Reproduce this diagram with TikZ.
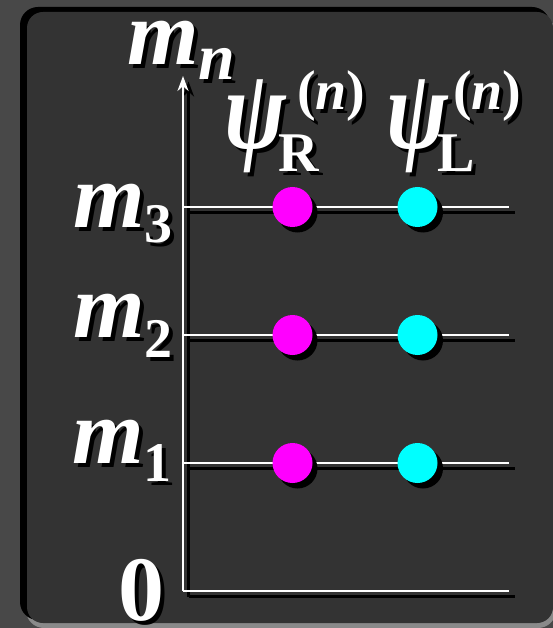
\documentclass[tikz,border=0pt]{standalone}
\usepackage{fontspec}
\setmainfont{Liberation Serif}
\usetikzlibrary{arrows.meta}
\definecolor{outerbg}{HTML}{484848}
\definecolor{panelbg}{HTML}{333333}
\definecolor{panellight}{HTML}{8A8A8A}
\definecolor{dotR}{HTML}{FF00FF}
\definecolor{dotL}{HTML}{00FFFF}
\newcommand\fs[1]{\fontsize{#1}{#1}\selectfont}
\newcommand\bigpsi{\scalebox{1.05}[1.3]{\fs{88}\bfseries\itshape ψ}}
\tikzset{
  txt/.style={inner sep=0pt, outer sep=0pt, anchor=base west},
  axisline/.style={white, line width=2.4pt},
  axisshadow/.style={black, line width=2.8pt},
  dot/.style={circle, fill=#1, minimum size=40pt, inner sep=0pt},
  dotshadow/.style={circle, fill=black, minimum size=40pt, inner sep=0pt},
}
\newcommand\shlabel[4]{%
  \node[txt, text=black] (#1s) at (#2+4,#3+4) {#4};
  \node[txt, text=white] (#1) at (#2,#3) {#4};}
\begin{document}
\begin{tikzpicture}[x=1pt, y=-1pt]
\useasboundingbox (0,0) rectangle (553,628);
\fill[outerbg] (0,0) rectangle (553,628);
% panel with bevel
\fill[panellight, rounded corners=18pt] (26,16) rectangle (556,628);
\fill[black, rounded corners=18pt] (20,7) rectangle (550,620);
\fill[panelbg, rounded corners=16pt] (27,12) rectangle (553,623);
% coordinates
\coordinate (o) at (183,591);
\coordinate (top) at (183,76);
\coordinate (os) at (188.5,596.5);
\coordinate (tops) at (188.5,81.5);
\foreach \n/\y in {0/591,1/463,2/335,3/207}{
  \coordinate (a\n) at (183,\y);
  \coordinate (e\n) at (509,\y);
  \coordinate (as\n) at (188.5,\y+5.5);
  \coordinate (es\n) at (514.5,\y+5.5);
}
% shadows of lines
\draw[axisshadow, -{Stealth[length=15pt,width=11pt]}] (os) -- (tops);
\foreach \n in {0,1,2,3}{ \draw[axisshadow] (as\n) -- (es\n); }
% white lines
\draw[axisline, -{Stealth[length=15pt,width=11pt]}] (o) -- (top);
\foreach \n in {0,1,2,3}{ \draw[axisline] (a\n) -- (e\n); }
% dots
\foreach \n/\y in {1/463,2/335,3/207}{
  \node[dotshadow] (rs\n) at (297.5,\y+5.5) {};
  \node[dotshadow] (ls\n) at (423,\y+5.5) {};
  \node[dot=dotR] (r\n) at (292.5,\y) {};
  \node[dot=dotL] (l\n) at (417.5,\y) {};
}
% labels
\shlabel{mn}{127}{65}{\fs{92}\bfseries\itshape m\raisebox{-15pt}{\fs{66}n}}
\shlabel{m3}{73}{227}{\fs{92}\bfseries\itshape m\raisebox{-15pt}{\upshape\fs{56}3}}
\shlabel{m2}{73}{337}{\fs{92}\bfseries\itshape m\raisebox{-20pt}{\upshape\fs{56}2}}
\shlabel{m1}{72}{463}{\fs{92}\bfseries\itshape m\raisebox{-18pt}{\upshape\fs{56}1}}
\shlabel{zero}{118}{620}{\fs{92}\bfseries 0}
\shlabel{psiR}{224}{149}{\bigpsi}
\shlabel{R}{278}{172}{\fs{56}\bfseries R}
\shlabel{nR}{297}{110}{\fs{56}\bfseries(\itshape n\upshape)}
\shlabel{psiL}{386}{149}{\bigpsi}
\shlabel{L}{437}{172}{\fs{56}\bfseries L}
\shlabel{nL}{453}{110}{\fs{56}\bfseries(\itshape n\upshape)}
\end{tikzpicture}
\end{document}
